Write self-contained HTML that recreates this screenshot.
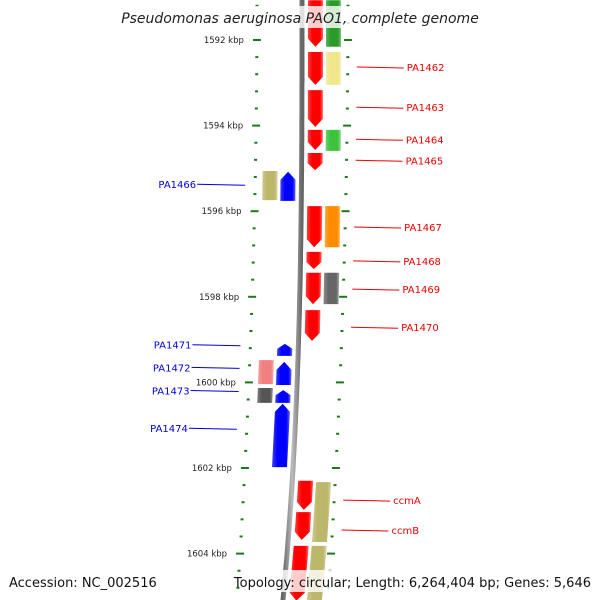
<!DOCTYPE html>
<html><head><meta charset="utf-8"><style>
body{margin:0;background:#fff}
svg{display:block;font-family:"DejaVu Sans","Liberation Sans",sans-serif}
</style></head><body>
<svg id="c" width="600" height="600" viewBox="0 0 600 600">
<defs>
<linearGradient id="bb" x1="0" x2="1"><stop offset="0" stop-color="#666"/><stop offset="0.5" stop-color="#bbb"/><stop offset="1" stop-color="#666"/></linearGradient>
</defs>
<g id="ticks"></g>
<g id="genes"></g>
<g id="labels"></g>
<rect x="118" y="6" width="364" height="22" fill="#fff" fill-opacity="0.8"/>
<text x="300" y="23" text-anchor="middle" font-size="14" font-style="italic" fill="#222">Pseudomonas aeruginosa PAO1, complete genome</text>
<rect x="4" y="570" width="140" height="22" fill="#fff" fill-opacity="0.8"/>
<text x="9" y="587" font-size="13" fill="#111">Accession: NC_002516</text>
<rect x="256" y="570" width="340" height="22" fill="#fff" fill-opacity="0.8"/>
<text x="591" y="587" text-anchor="end" font-size="13" fill="#111">Topology: circular; Length: 6,264,404 bp; Genes: 5,646</text>
</svg>
<script>
const tickKbp=[1592,1594,1596,1598,1600,1602,1604];
const geneStart=[1591.07,1592.28,1593.17,1594.10,1594.64,1595.08,1595.88,1596.95,1597.44,1598.31,1599.10,1599.52,1600.18,1600.50,1602.30,1603.03,1603.82];
const geneEnd=[1592.16,1593.05,1594.03,1594.57,1595.04,1595.76,1596.84,1597.35,1598.17,1599.03,1599.38,1600.06,1600.48,1601.98,1602.98,1603.68,1605.10];
const geneStrand=[1,1,1,1,1,-1,1,1,1,1,-1,-1,-1,-1,1,1,1];
const geneColor=['#2a9a2a','#f0e68c',null,'#3cc23c',null,'#bdb76b','#ff8c00',null,'#666',null,null,'#f08080','#555',null,'#bdb76b',null,'#bdb76b'];
const colorStart=[1591.07,1592.28,0,1594.10,0,1595.06,1595.88,0,1597.44,0,0,1599.48,1600.13,0,1602.33,0,1603.82];
const colorEnd=[1592.16,1593.05,0,1594.59,0,1595.74,1596.84,0,1598.17,0,0,1600.04,1600.48,0,1603.73,0,1605.10];
const geneLabel=['','PA1462','PA1463','PA1464','PA1465','PA1466','PA1467','PA1468','PA1469','PA1470','PA1471','PA1472','PA1473','PA1474','ccmA','ccmB',''];
const labelKbp=[0,1592.63,1593.57,1594.32,1594.81,1595.37,1596.37,1597.16,1597.82,1598.71,1599.12,1599.65,1600.19,1601.07,1602.75,1603.45,0];

const NS='http://www.w3.org/2000/svg';
const Y=k=>40+(k-1592)*42.8;
const S=y=>-19*Math.pow(Math.max(y,0)/600,3);
const T=y=>-0.0000553*y*y;
function mk(tag,attrs,parent){const e=document.createElementNS(NS,tag);for(const a in attrs)e.setAttribute(a,attrs[a]);parent.appendChild(e);return e;}
const svg=document.getElementById('c');
const tg=document.getElementById('ticks'),gg=document.getElementById('genes'),lg=document.getElementById('labels');
const defs=svg.querySelector('defs');
function grad(id,c){const g=mk('linearGradient',{id:id,x1:0,x2:1},defs);
 mk('stop',{offset:0,'stop-color':c,'stop-opacity':0.75},g);mk('stop',{offset:0.3,'stop-color':c},g);mk('stop',{offset:0.8,'stop-color':c},g);mk('stop',{offset:1,'stop-color':c,'stop-opacity':0.6},g);return 'url(#'+id+')';}
let d='';for(let y=-5;y<=605;y+=5){d+=(y<0?'M':'L')+(302+S(y)).toFixed(1)+' '+y;}
const bb=mk('path',{d:d,stroke:'url(#bb)','stroke-width':5,fill:'none'},tg);


const k0=1590.8,k1=1605;
for(let k=Math.ceil(k0/0.4)*0.4;k<k1;k+=0.4){
 const y=Y(k),s=T(y);const major=Math.abs(k/2-Math.round(k/2))<0.01;
 const w=major?8:3;
 const l=mk('rect',{x:257+s-w/2,y:y-1,width:w,height:2,fill:'#1a7a1a'},tg);
 
 
 const r=mk('rect',{x:348+s-w/2,y:y-1,width:w,height:2,fill:'#1a7a1a'},tg);
 
 
}
tickKbp.forEach(k=>{const y=Y(k);
 const t=mk('text',{x:244+T(y),y:y+3,'text-anchor':'end','font-size':8.5,fill:'#222'},tg);t.textContent=k+' kbp';
 
 });
function arrowPts(x0,w,y0,y1,dir){
 const h=Math.min(8,(y1-y0)*0.4),p=[];const X=(x,y)=>(x+S(y)).toFixed(1)+','+y.toFixed(1);
 if(dir>0){p.push(X(x0,y0),X(x0+w,y0),X(x0+w,y1-h),X(x0+w/2,y1),X(x0,y1-h));}
 else{p.push(X(x0+w/2,y0),X(x0+w,y0+h),X(x0+w,y1),X(x0,y1),X(x0,y0+h));}
 return p.join(' ');}
function boxPts(x0,w,y0,y1){const X=(x,y)=>(x+S(y)).toFixed(1)+','+y.toFixed(1);return [X(x0,y0),X(x0+w,y0),X(x0+w,y1),X(x0,y1)].join(' ');}
for(let i=0;i<geneStart.length;i++){
 const y0=Y(geneStart[i]),y1=Y(geneEnd[i]),f=geneStrand[i]>0;
 const g=mk('polygon',{points:arrowPts(f?308:281,15,y0,y1,geneStrand[i]),fill:grad('g'+i,f?'#ff0000':'#0000ff')},gg);
 
 
 if(geneColor[i]){
  const c=mk('polygon',{points:boxPts(f?326:263,15,Y(colorStart[i]),Y(colorEnd[i])),fill:grad('c'+i,geneColor[i])},gg);
  
  
 }
 if(geneLabel[i]){
  const ly=Y(labelKbp[i]),s=T(ly),col=f?'#ee0000':'#0000dd';
  const ln=mk('line',f?{x1:357+s,x2:404+s,y1:ly,y2:ly+1}:{x1:199+s,x2:247+s,y1:ly,y2:ly+1},lg);
  ln.setAttribute('stroke',col);
  
  
  const t=mk('text',{x:f?407+s:198+s,y:ly+4,'text-anchor':f?'start':'end','font-size':10,fill:col},lg);
  t.textContent=geneLabel[i];
  
  
 }
}
</script>
</body></html>
